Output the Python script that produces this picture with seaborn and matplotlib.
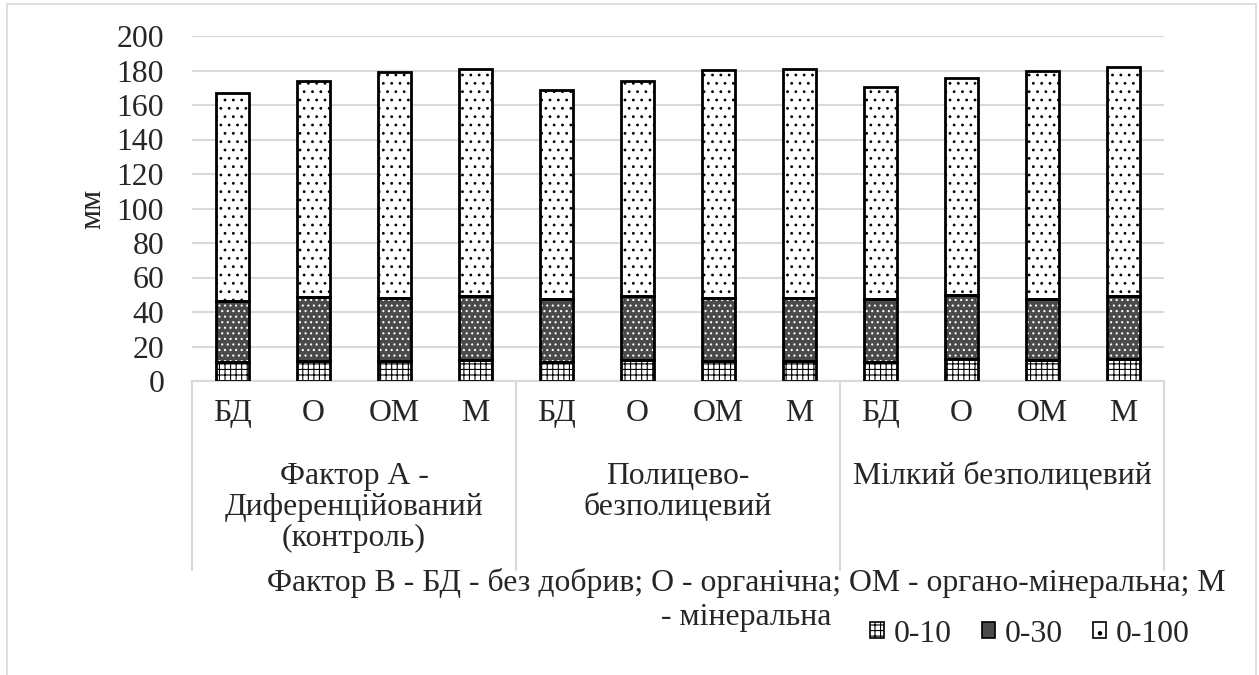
import matplotlib
matplotlib.use("Agg")
import matplotlib.pyplot as plt
import matplotlib.transforms as mtransforms
from matplotlib.patches import Patch, Rectangle
from matplotlib.lines import Line2D
import seaborn as sns
import pandas as pd

tillage = ["Фактор А -\nДиференційований\n(контроль)", "Полицево-\nбезполицевий", "Мілкий безполицевий"]
fertilizer = ["БД", "О", "ОМ", "М"]
layers = ["0-10", "0-30", "0-100"]

# segment heights (mm), order: tillage x fertilizer
seg_0_10 = [10.8, 11.8, 11.8, 12.2, 10.8, 12.2, 11.8, 11.8, 11.2, 12.5, 12.2, 12.5]
seg_0_30 = [35.6, 37.1, 36.5, 37.1, 36.9, 37.1, 36.5, 36.5, 36.1, 37.2, 35.5, 36.8]
seg_0_100 = [120.4, 125.0, 131.0, 131.6, 121.0, 124.9, 131.8, 132.6, 123.1, 126.0, 131.8, 132.9]

yticks = list(range(0, 201, 20))
footnote = ["Фактор В - БД - без добрив; О - органічна; ОМ - органо-мінеральна; М",
            "- мінеральна"]

sns.set_style("white")
plt.rcParams["font.family"] = ["Liberation Serif", "DejaVu Serif"]
plt.rcParams["hatch.linewidth"] = 0.8

rows = []
for i, t in enumerate(tillage):
    for j, f in enumerate(fertilizer):
        k = i * 4 + j
        rows.append({"key": f"{i}-{f}", "fert": f,
                     "0-10": seg_0_10[k], "0-30": seg_0_30[k], "0-100": seg_0_100[k]})
df = pd.DataFrame(rows)
order = list(df["key"])
bottoms = {
    "0-10": df["0-10"] * 0,
    "0-30": df["0-10"],
    "0-100": df["0-10"] + df["0-30"],
}
styles = {
    "0-10": dict(face="white", hatch="+++", hcol="black"),
    "0-30": dict(face="#4a4a4a", hatch="...", hcol="white"),
    "0-100": dict(face="white", hatch="..", hcol="black"),
}

W, H = 1259, 675
FS = 22.9
GRID = "#d9d9d9"
fig = plt.figure(figsize=(W / 100, H / 100), dpi=100)
ax = fig.add_axes([192 / W, 1 - 381 / H, (1164 - 192) / W, (381 - 36) / H])

bw = 0.41
for layer in layers:
    st = styles[layer]
    sns.barplot(data=df, x="key", y=layer, order=order, bottom=bottoms[layer].values,
                width=bw, color=st["face"], saturation=1, hatch=st["hatch"],
                edgecolor=st["hcol"], linewidth=0, errorbar=None, ax=ax, zorder=2)
    sns.barplot(data=df, x="key", y=layer, order=order, bottom=bottoms[layer].values,
                width=bw, color="black", facecolor="none", edgecolor="black",
                linewidth=2.0, errorbar=None, ax=ax, zorder=3)

ax.set_ylim(0, 200)
ax.set_xlim(-0.5, 11.5)
ax.set_yticks(yticks)
ax.set_xticks(range(len(order)))
ax.set_xticklabels(fertilizer * len(tillage))
ax.tick_params(axis="y", length=0, pad=20, labelsize=FS)
ax.tick_params(axis="x", length=0, pad=13, labelsize=FS)
ax.yaxis.grid(True, color=GRID, linewidth=1.5, zorder=0)
ax.set_axisbelow(True)
ax.set_xlabel("")
ax.set_ylabel("мм", fontsize=FS, labelpad=7)
for s in ["top", "right", "left"]:
    ax.spines[s].set_visible(False)
ax.spines["bottom"].set_color(GRID)
ax.spines["bottom"].set_linewidth(1.5)

# multi-level category box
trans = mtransforms.blended_transform_factory(ax.transData, ax.transAxes)
box_bottom = -(570 - 381) / (381 - 36)
for xb in [-0.5, 3.5, 7.5, 11.5]:
    ax.add_line(Line2D([xb, xb], [0, box_bottom], transform=trans, color=GRID,
                       linewidth=1.5, clip_on=False))
for i, t in enumerate(tillage):
    ax.text(i * 4 + 1.5, -(462 - 381) / (381 - 36), t, transform=trans, ha="center",
            va="top", fontsize=FS, linespacing=1.08, multialignment="center")

# horizontal axis title, two centred lines
for n, line in enumerate(footnote):
    fig.text(746 / W, 1 - (568 + 35 * n) / H, line, ha="center", va="top", fontsize=FS)

handles = [Patch(facecolor="white", edgecolor="black", hatch="+++", linewidth=1.2),
           Patch(facecolor="#4a4a4a", edgecolor="black", linewidth=1.2),
           Patch(facecolor="white", edgecolor="black", hatch=".", linewidth=1.2)]
fig.legend(handles, layers, loc="center", bbox_to_anchor=(1030 / W, 1 - 634 / H),
           ncol=3, frameon=False, fontsize=FS, handlelength=0.42, handleheight=0.42,
           handletextpad=0.3, columnspacing=0.95, borderaxespad=0, borderpad=0)

fig.add_artist(Rectangle((7 / W, -0.05), (1256 - 7) / W, 1.05 - 4 / H,
                         transform=fig.transFigure, fill=False, edgecolor=GRID,
                         linewidth=1.2))

fig.savefig("out.png", dpi=100)
